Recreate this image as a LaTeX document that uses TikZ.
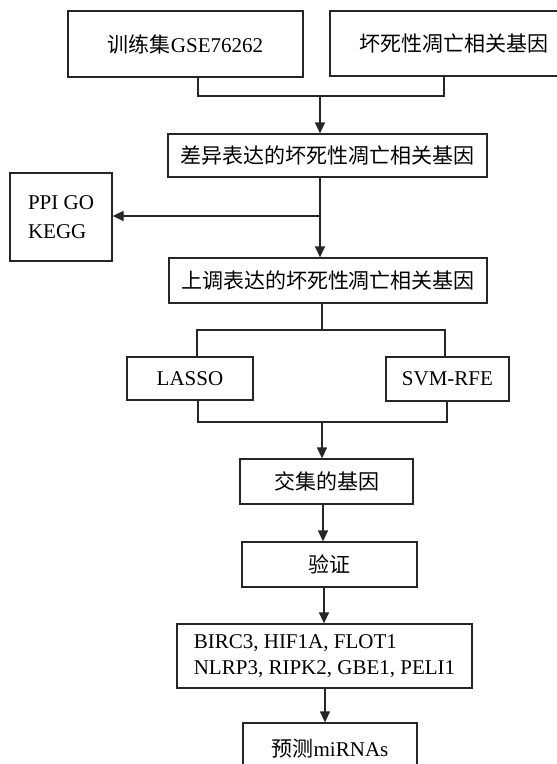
\documentclass[tikz,border=0pt]{standalone}
\usepackage{fontspec}
\setmainfont{Liberation Serif}
\newfontfamily\cjk{Noto Sans CJK SC}
\usetikzlibrary{arrows.meta}
\colorlet{linecol}{black!85}
\newcommand{\zh}[1]{{\cjk #1}}

\begin{document}
\begin{tikzpicture}[x=1pt, y=-1pt,
      box/.style  = {draw=linecol, line width=1.3pt, inner sep=0pt,
                     font=\fontsize{21}{29}\selectfont, align=center},
      line/.style = {draw=linecol, line width=1.3pt},
      arr/.style  = {line, -{Triangle[length=11pt, width=10pt]}}
    ]
    \useasboundingbox (0,0) rectangle (557,764);

    \node[box, minimum width=235pt, minimum height=66pt] (train)  at (185.5,44)  {\zh{训练集}GSE76262};
    \node[box, minimum width=247pt, minimum height=65pt] (necro)  at (453.5,43.5) {\zh{坏死性凋亡相关基因}};
    \node[box, minimum width=319pt, minimum height=43pt] (deg)    at (327.5,155.5) {\zh{差异表达的坏死性凋亡相关基因}};
    \node[box, minimum width=102pt, minimum height=88pt, align=left] (enrich) at (61,217) {PPI GO\\KEGG};
    \node[box, minimum width=318pt, minimum height=45pt] (up)     at (328,280.5) {\zh{上调表达的坏死性凋亡相关基因}};
    \node[box, minimum width=126pt, minimum height=43pt] (lasso)  at (190,378.5) {LASSO};
    \node[box, minimum width=123pt, minimum height=44pt] (svm)    at (447.5,379) {SVM-RFE};
    \node[box, minimum width=173pt, minimum height=45pt] (inter)  at (326.5,481.5) {\zh{交集的基因}};
    \node[box, minimum width=175pt, minimum height=45pt] (verify) at (329.5,564.5) {\zh{验证}};
    \node[box, minimum width=295pt, minimum height=64pt, align=left,
          font=\fontsize{21}{26}\selectfont] (genes) at (324.5,656)
          {BIRC3, HIF1A, FLOT1\\NLRP3, RIPK2, GBE1, PELI1};
    \node[box, minimum width=174pt, minimum height=52pt] (mirna)  at (330,749) {\zh{预测}miRNAs};

    \coordinate (j1) at (320,96);
    \coordinate (j2) at (320,216);
    \coordinate (j3) at (322,330);
    \coordinate (j4) at (322,422);

    \draw[line] ([xshift=12.5pt]train.south) |- (j1) -| ([xshift=-9.5pt]necro.south);
    \draw[arr]  (j1) -- (deg.north -| j1);
    \draw[arr]  (deg.south -| j2) -- (up.north -| j2);
    \draw[arr]  (j2) -- (enrich.east |- j2);
    \draw[line] (up.south -| j3) -- (j3);
    \draw[line] ([xshift=7pt]lasso.north) |- (j3) -| ([xshift=-2.5pt]svm.north);
    \draw[line] ([xshift=8pt]lasso.south) |- (j4) -| ([xshift=-0.5pt]svm.south);
    \draw[arr]  (j4) -- (inter.north -| j4);
    \draw[arr]  ([xshift=-3.5pt]inter.south) -- ([xshift=-6.5pt]verify.north);
    \draw[arr]  ([xshift=-5.5pt]verify.south) -- ([xshift=-0.5pt]genes.north);
    \draw[arr]  ([xshift=0.5pt]genes.south) -- ([xshift=-5pt]mirna.north);
  \end{tikzpicture}
\end{document}
